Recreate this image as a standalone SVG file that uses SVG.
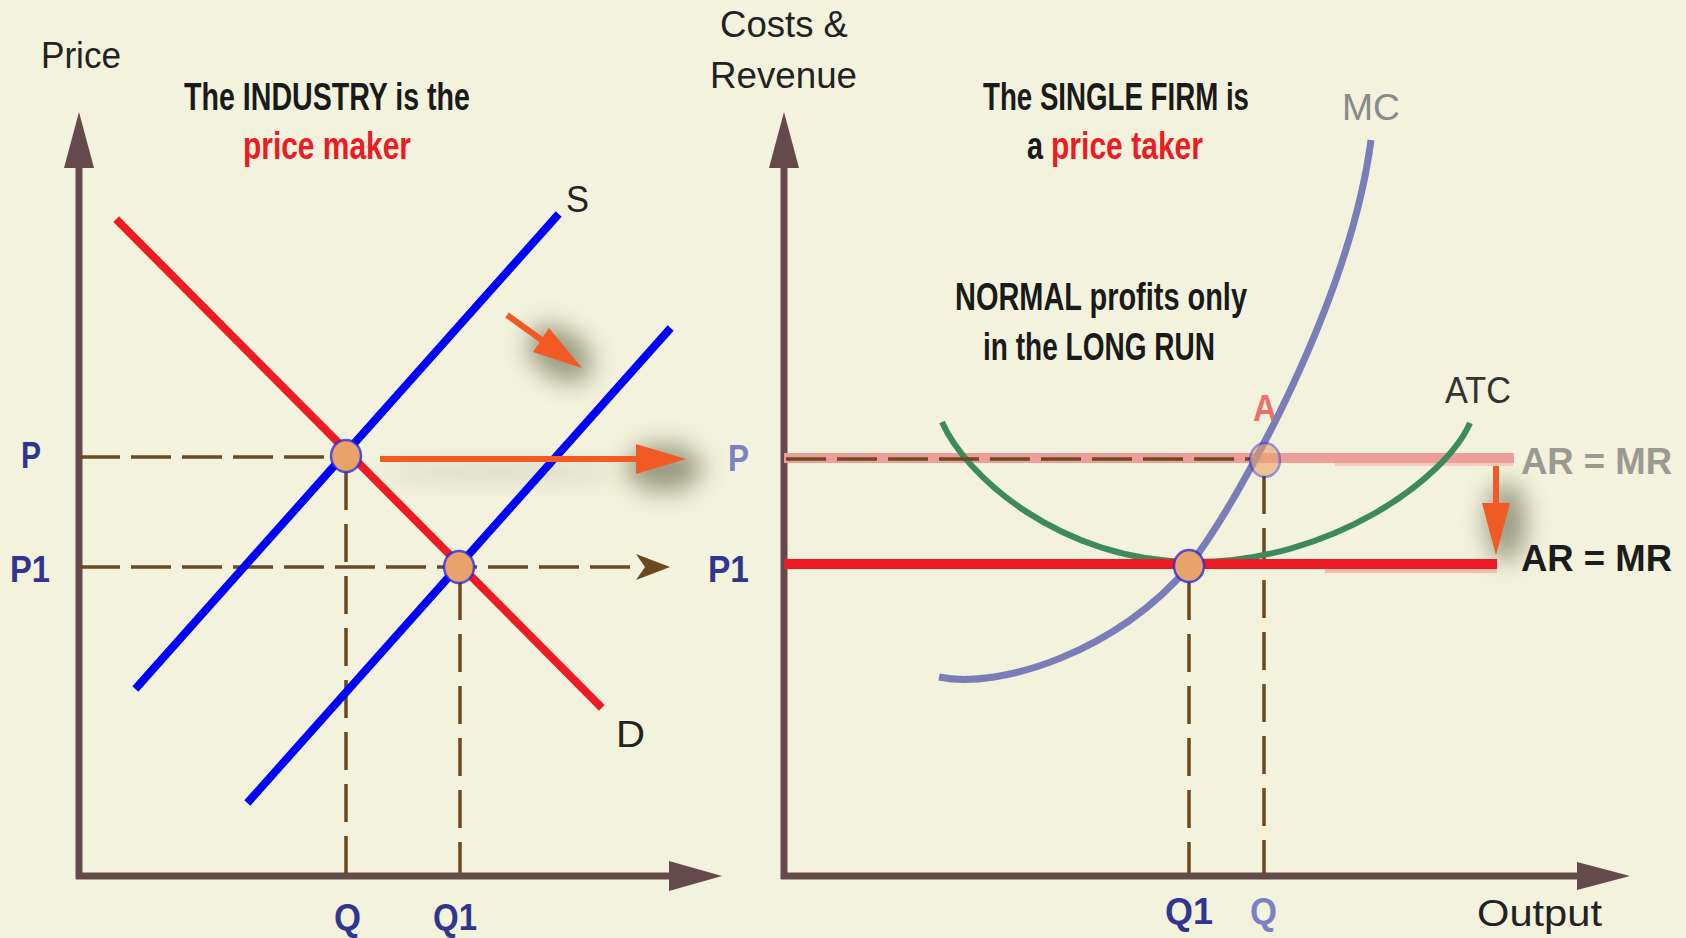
<svg xmlns="http://www.w3.org/2000/svg" width="1686" height="938" viewBox="0 0 1686 938">
<style>
.axis{stroke:#654A4B;stroke-width:7;fill:none}
.axhead{fill:#654A4B}
.dash{stroke:#6B4A22;stroke-width:3.5;fill:none;stroke-dasharray:40 11}
.vdash{stroke:#6B4A22;stroke-width:3.5;fill:none;stroke-dasharray:38 14}
.blue{stroke:#0000FF;stroke-width:8;fill:none;stroke-linecap:square}
.red{stroke:#ED1C24;stroke-width:8;fill:none;stroke-linecap:square}
.pt{fill:#E9A36A;stroke:#2424E0;stroke-width:2.5;stroke-opacity:0.75}
.orange{stroke:#F15A24;stroke-width:6;fill:none}
.ohead{fill:#F15A24}
.shadow{fill:#5E5E46;filter:url(#blur)}
.ttl{font-family:"Liberation Sans",Arial,sans-serif;font-weight:bold;font-size:38px;fill:#1A1A1A}
.ttlr{font-family:"Liberation Sans",Arial,sans-serif;font-weight:bold;font-size:38px;fill:#ED1C24}
.lab{font-family:"Liberation Sans",Arial,sans-serif;font-size:37px;fill:#222}
.blab{font-family:"Liberation Sans",Arial,sans-serif;font-weight:bold;font-size:36px;fill:#2F3590}
.blabl{font-family:"Liberation Sans",Arial,sans-serif;font-weight:bold;font-size:36px;fill:#7C80C6}
</style>
<defs>
<filter id="blur" x="-100%" y="-100%" width="300%" height="300%">
<feGaussianBlur stdDeviation="12"/>
</filter>
</defs>
<rect width="1686" height="938" fill="#F3F2DC"/>

<g id="left-axes">
<line class="axis" x1="79" y1="160" x2="79" y2="879"/>
<polygon class="axhead" points="79,112 64,168 94,168"/>
<line class="axis" x1="76" y1="876" x2="672" y2="876"/>
<polygon class="axhead" points="722,876 669,861 669,891"/>
</g>

<g id="left-labels">
<text class="lab" x="41" y="68" textLength="80" lengthAdjust="spacingAndGlyphs">Price</text>
<text class="ttl" x="184" y="110" textLength="286" lengthAdjust="spacingAndGlyphs">The INDUSTRY is the</text>
<text class="ttlr" x="243" y="159" textLength="168" lengthAdjust="spacingAndGlyphs">price maker</text>
<text class="lab" x="566" y="212" font-size="40" textLength="23" lengthAdjust="spacingAndGlyphs">S</text>
<text class="lab" x="616" y="747" font-size="40" textLength="29" lengthAdjust="spacingAndGlyphs">D</text>
<text class="blab" x="21" y="468" textLength="20" lengthAdjust="spacingAndGlyphs">P</text>
<text class="blab" x="10" y="582" textLength="40" lengthAdjust="spacingAndGlyphs">P1</text>
<text class="blab" x="334" y="930" textLength="27" lengthAdjust="spacingAndGlyphs">Q</text>
<text class="blab" x="433" y="930" textLength="44" lengthAdjust="spacingAndGlyphs">Q1</text>
</g>

<g id="connectors">
<line class="dash" x1="80" y1="457" x2="332" y2="457"/>
<line class="dash" x1="80" y1="567" x2="640" y2="567"/>
<path d="M636,554 L670,567 L636,580 L645,567 Z" fill="#6B4A22"/>
<line class="vdash" x1="346" y1="472" x2="346" y2="873"/>
<line class="vdash" x1="460" y1="582" x2="460" y2="873"/>
<line class="vdash" x1="1189" y1="582" x2="1189" y2="873"/>
<line class="vdash" x1="1264" y1="476" x2="1264" y2="873"/>
</g>

<g id="arrow-shadows">
<ellipse class="shadow" cx="560" cy="354" rx="36" ry="24" transform="rotate(35 560 354)" opacity="0.6"/>
<ellipse class="shadow" cx="500" cy="472" rx="120" ry="8" opacity="0.2"/>
<ellipse class="shadow" cx="664" cy="468" rx="38" ry="24" opacity="0.6"/>
<ellipse class="shadow" cx="1506" cy="522" rx="20" ry="40" opacity="0.6"/>
</g>

<g id="curve-D">
<line class="red" x1="119" y1="222" x2="599" y2="705"/>
</g>
<g id="curve-S">
<line class="blue" x1="138" y1="686" x2="556" y2="217"/>
</g>
<g id="curve-S2">
<line class="blue" x1="250" y1="800" x2="668" y2="331"/>
</g>

<g id="shift-arrows">
<line class="orange" x1="507" y1="315" x2="543" y2="341"/>
<polygon class="ohead" points="582,368 549,328 533,352"/>
<line class="orange" x1="380" y1="459" x2="638" y2="459"/>
<polygon class="ohead" points="686,459 636,444 636,474"/>
</g>

<g id="point-1"><ellipse class="pt" cx="346" cy="456" rx="15" ry="16"/></g>
<g id="point-2"><ellipse class="pt" cx="459" cy="567" rx="15" ry="16"/></g>

<g id="right-axes">
<line class="axis" x1="784" y1="160" x2="784" y2="879"/>
<polygon class="axhead" points="784,112 769,168 799,168"/>
<line class="axis" x1="781" y1="876" x2="1580" y2="876"/>
<polygon class="axhead" points="1630,876 1577,862 1577,890"/>
</g>

<g id="right-labels">
<text class="lab" x="720" y="37" textLength="128" lengthAdjust="spacingAndGlyphs">Costs &amp;</text>
<text class="lab" x="710" y="88" textLength="147" lengthAdjust="spacingAndGlyphs">Revenue</text>
<text class="ttl" x="983" y="110" textLength="266" lengthAdjust="spacingAndGlyphs">The SINGLE FIRM is</text>
<text class="ttl" x="1027" y="159" textLength="16" lengthAdjust="spacingAndGlyphs">a</text>
<text class="ttlr" x="1051" y="159" textLength="152" lengthAdjust="spacingAndGlyphs">price taker</text>
<text class="ttl" x="955" y="310" textLength="292" lengthAdjust="spacingAndGlyphs">NORMAL profits only</text>
<text class="ttl" x="983" y="360" textLength="232" lengthAdjust="spacingAndGlyphs">in the LONG RUN</text>
<text class="lab" x="1342" y="120" style="fill:#8A8A8A" textLength="58" lengthAdjust="spacingAndGlyphs">MC</text>
<text class="lab" x="1445" y="403" style="fill:#333" textLength="66" lengthAdjust="spacingAndGlyphs">ATC</text>
<text class="lab" x="1253" y="421" style="fill:#EE6E6E;font-weight:bold" textLength="24" lengthAdjust="spacingAndGlyphs">A</text>
<text class="lab" x="1521" y="474" style="fill:#9A9A90;font-weight:bold" textLength="151" lengthAdjust="spacingAndGlyphs">AR = MR</text>
<text class="lab" x="1521" y="571" style="fill:#1C1C1C;font-weight:bold" textLength="151" lengthAdjust="spacingAndGlyphs">AR = MR</text>
<text class="blabl" x="728" y="471" textLength="21" lengthAdjust="spacingAndGlyphs">P</text>
<text class="blab" x="708" y="582" textLength="41" lengthAdjust="spacingAndGlyphs">P1</text>
<text class="blab" x="1165" y="924" textLength="48" lengthAdjust="spacingAndGlyphs">Q1</text>
<text class="blabl" x="1250" y="924" textLength="27" lengthAdjust="spacingAndGlyphs">Q</text>
</g>

<g id="line-AR-P">
<rect x="1335" y="460" width="178" height="6" fill="#F2CDBF"/>
<line x1="784" y1="458" x2="1514" y2="458" stroke="#EE9E9A" stroke-width="10"/>
</g>

<g id="curve-ATC">
<path d="M942,422 C965,475 1060,562 1195,562 C1330,562 1445,480 1470,423" fill="none" stroke="#3D8A5C" stroke-width="6"/>
</g>

<g id="curve-MC">
<path d="M939,677 C1000,690 1120,650 1189,566 C1240,500 1350,300 1371,140" fill="none" stroke="#7B7DB8" stroke-width="7"/>
</g>

<g id="line-AR-P1">
<rect x="1325" y="566" width="172" height="7" fill="#F2BDB5"/>
<line x1="784" y1="564" x2="1497" y2="564" stroke="#ED1C24" stroke-width="10"/>
</g>

<g id="connector-P-right">
<line class="dash" x1="786" y1="459" x2="1250" y2="459"/>
</g>

<g id="drop-arrow">
<line class="orange" x1="1496" y1="466" x2="1496" y2="506" stroke-width="5"/>
<polygon class="ohead" points="1482,503 1510,503 1496,555"/>
</g>

<g id="point-A"><ellipse class="pt" cx="1265" cy="460" rx="15" ry="17" opacity="0.6"/></g>
<g id="point-P1"><ellipse class="pt" cx="1189" cy="566" rx="15" ry="16"/></g>

<g id="output-label">
<text class="lab" x="1477" y="926" textLength="125" lengthAdjust="spacingAndGlyphs">Output</text>
</g>
</svg>
